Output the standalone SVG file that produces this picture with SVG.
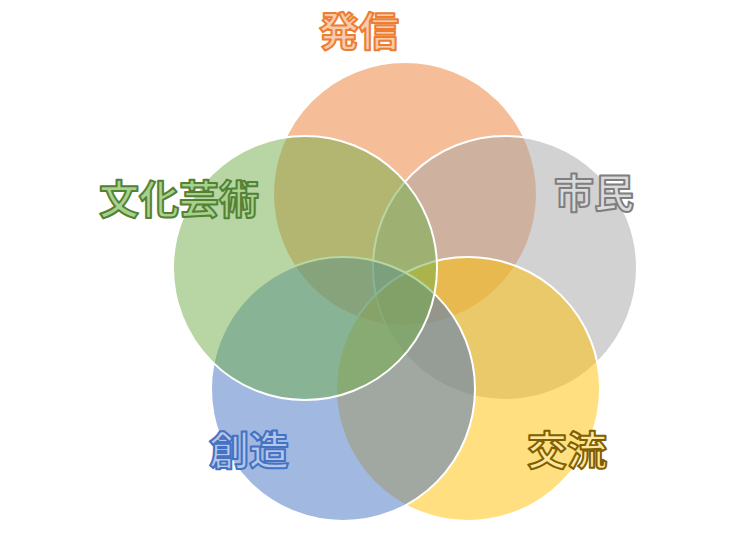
<svg xmlns="http://www.w3.org/2000/svg" width="737" height="541" viewBox="0 0 737 541">
<style>
.c{stroke:#FFFFFF;stroke-width:2;fill-opacity:0.5}
.t{font-family:"Noto Sans CJK JP","Noto Sans CJK SC",sans-serif;font-weight:bold;font-size:40px;text-anchor:middle;stroke-width:2;stroke-linejoin:round}
</style>
<rect width="737" height="541" fill="#FFFFFF"/>
<g id="connectors"/>
<g id="node-hasshin"><circle class="c" cx="405" cy="194" r="132" fill="#ED7D31"/></g>
<g id="node-shimin"><circle class="c" cx="505" cy="268" r="132" fill="#A5A5A5"/></g>
<g id="node-koryu"><circle class="c" cx="468" cy="389" r="132" fill="#FFC000"/></g>
<g id="node-sozo"><circle class="c" cx="343" cy="389" r="132" fill="#4472C4"/></g>
<g id="node-bunka"><circle class="c" cx="305" cy="268" r="132" fill="#70AD47"/></g>
<g id="labels">
<text class="t" x="359" y="46" fill="#F8CBAD" stroke="#ED7D31">発信</text>
<text class="t" x="594" y="208" fill="#DBDBDB" stroke="#7F7F7F">市民</text>
<text class="t" x="179" y="214" fill="#A9D18E" stroke="#548235">文化芸術</text>
<text class="t" x="249" y="465" fill="#B4C7E7" stroke="#4472C4">創造</text>
<text class="t" x="567" y="465" fill="#FFE699" stroke="#806000">交流</text>
</g>
</svg>
